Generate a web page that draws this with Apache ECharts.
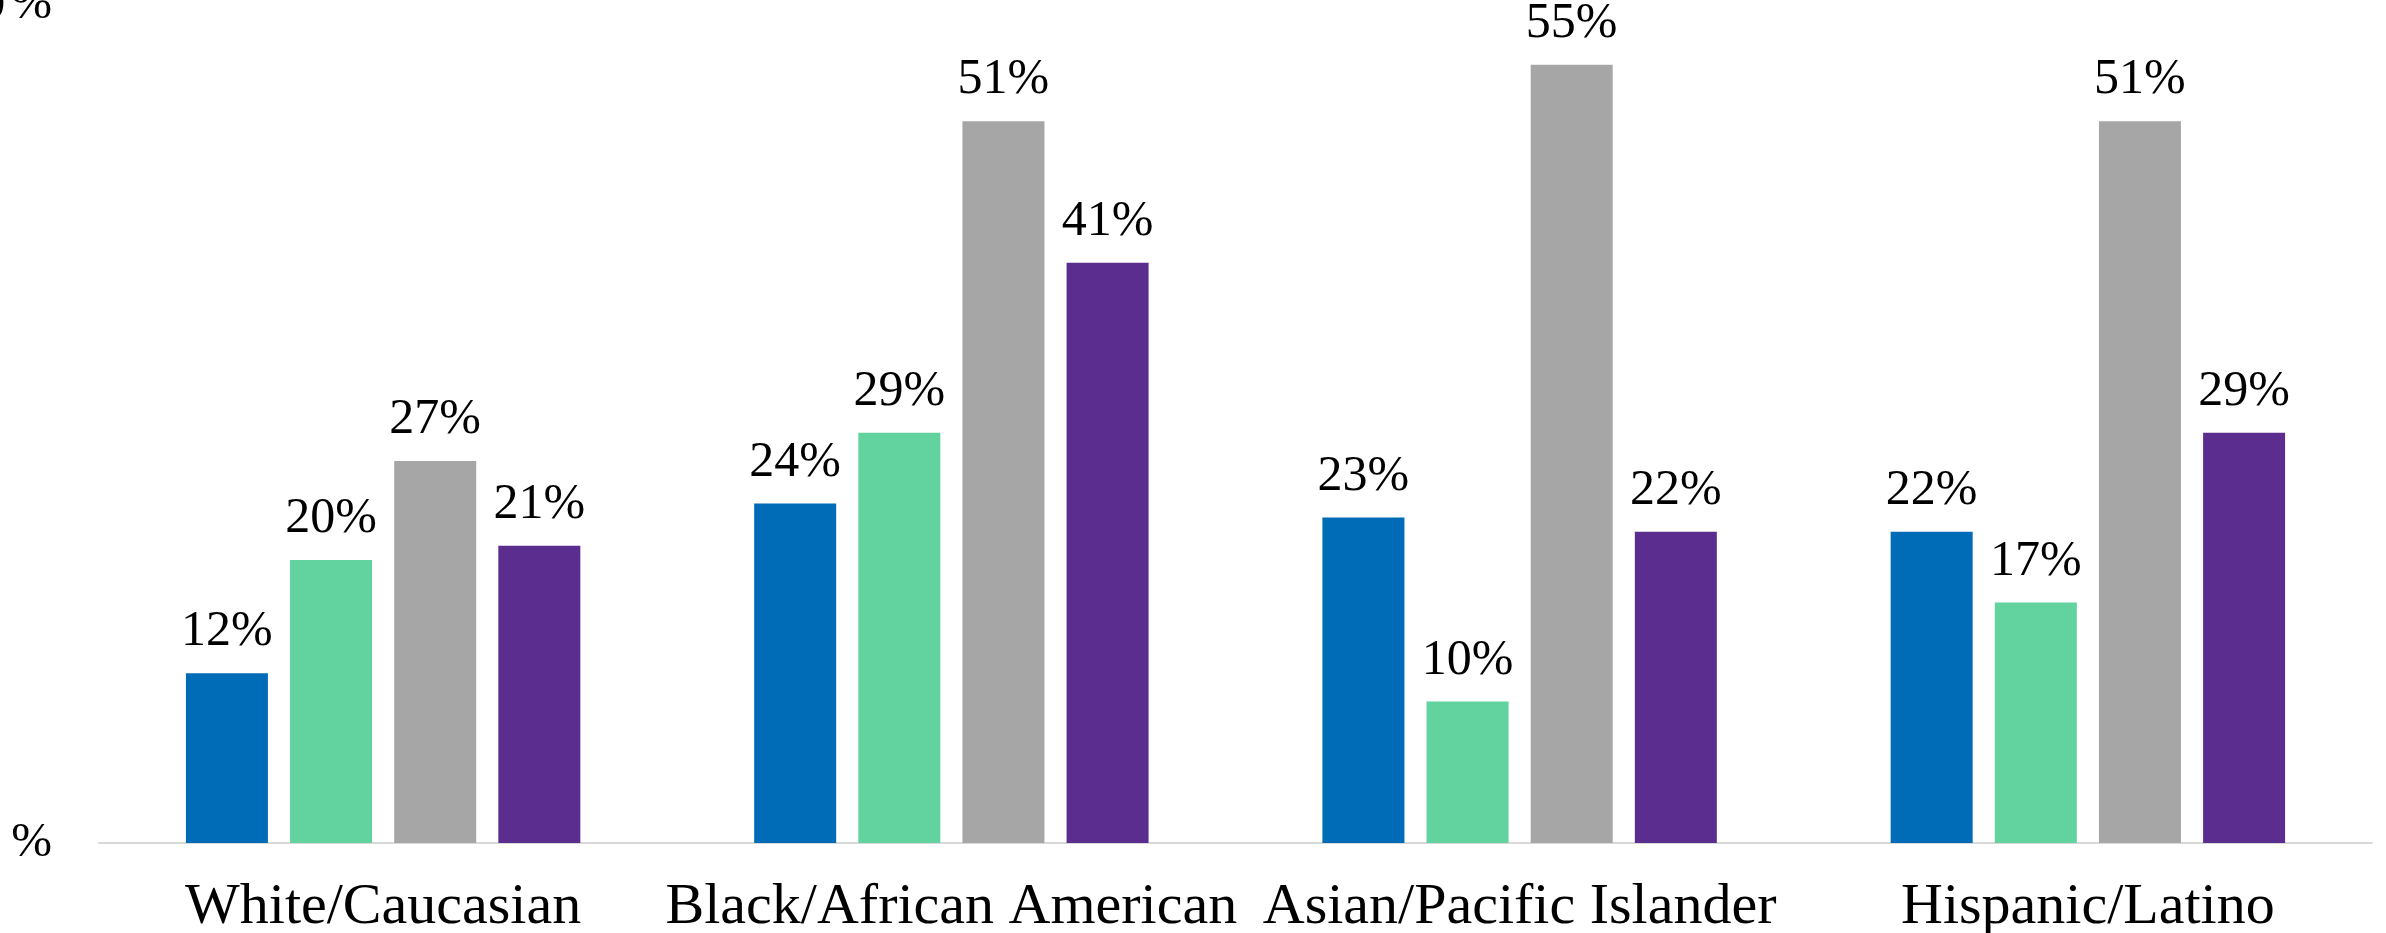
<!DOCTYPE html>
<html>
<head>
<meta charset="utf-8">
<title>Grouped bar chart</title>
<script src="https://cdn.jsdelivr.net/npm/echarts@6/dist/echarts.min.js"></script>
<style>
  html, body { margin: 0; padding: 0; background: #ffffff; }
  #chart { width: 2386px; height: 933px; }
</style>
</head>
<body>
<div id="chart"></div>
<script>
// Categories along the x axis
const categories = ['White/Caucasian', 'Black/African American', 'Asian/Pacific Islander', 'Hispanic/Latino'];

// Percentages for each of the four bars in a group
const seriesA = [12, 24, 23, 22];
const seriesB = [20, 29, 10, 17];
const seriesC = [27, 51, 55, 51];
const seriesD = [21, 41, 22, 29];

// Value axis range and tick step (percent)
const yMin = 0;
const yMax = 60;
const yStep = 60;

const colors = ['#006BB6', '#62D29E', '#A6A6A6', '#5B2D8E'];
const serif = '"Liberation Serif", "Times New Roman", serif';

function barSeries(name, data, color) {
  return {
    name: name,
    type: 'bar',
    data: data,
    barWidth: 82,
    barGap: '27%',
    itemStyle: { color: color },
    label: {
      show: true,
      position: 'top',
      distance: 16,
      formatter: p => p.value + '%',
      fontFamily: serif,
      fontSize: 50,
      color: '#000000'
    }
  };
}

const chart = echarts.init(document.getElementById('chart'), null, { renderer: 'canvas' });

chart.setOption({
  animation: false,
  backgroundColor: '#ffffff',
  grid: { left: 99, right: 14, top: -6, bottom: 90, containLabel: false, outerBoundsMode: 'none' },
  xAxis: {
    type: 'category',
    data: categories,
    axisLine: { show: true, lineStyle: { color: '#D9D9D9', width: 2 } },
    axisTick: { show: false },
    axisLabel: {
      margin: 36,
      fontFamily: serif,
      fontSize: 58,
      color: '#000000',
      interval: 0
    }
  },
  yAxis: {
    type: 'value',
    min: yMin,
    max: yMax,
    interval: yStep,
    axisLine: { show: false },
    axisTick: { show: false },
    splitLine: { show: false },
    axisLabel: {
      margin: 47,
      fontFamily: serif,
      fontSize: 49,
      color: '#000000',
      formatter: v => v === yMax ? '{nt|' + v + '}{pt|%}' : '{n|' + v + '}{p|%}',
      rich: {
        n: { fontFamily: serif, fontSize: 49, color: '#000000', padding: [0, 12, 0, 0] },
        p: { fontFamily: serif, fontSize: 49, color: '#000000' },
        nt: { fontFamily: serif, fontSize: 49, color: '#000000', padding: [22, 6, 0, 0] },
        pt: { fontFamily: serif, fontSize: 49, color: '#000000', padding: [22, 0, 0, 0] }
      }
    }
  },
  series: [
    barSeries('A', seriesA, colors[0]),
    barSeries('B', seriesB, colors[1]),
    barSeries('C', seriesC, colors[2]),
    barSeries('D', seriesD, colors[3])
  ]
});
</script>
</body>
</html>
